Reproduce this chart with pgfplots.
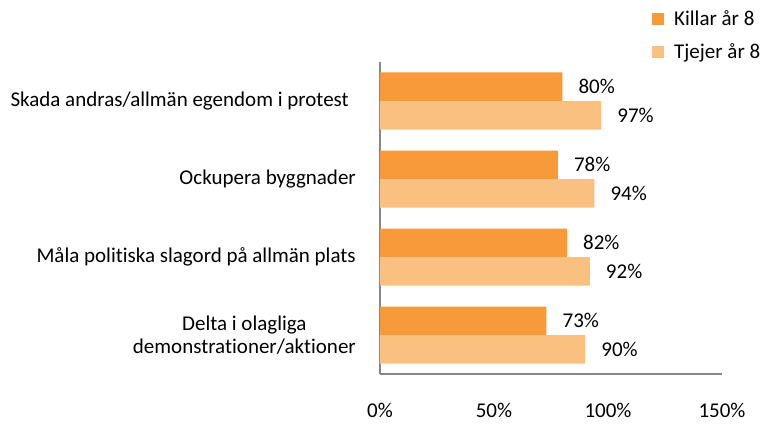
\documentclass[border=0pt]{standalone}
\usepackage{fontspec}
\setmainfont{Carlito}[Ligatures={NoCommon}]
\usepackage{pgfplots}
\pgfplotsset{compat=1.18}
\definecolor{killar}{HTML}{F99A3A}
\definecolor{tjejer}{HTML}{FAC07F}
\definecolor{axgray}{HTML}{868686}
\newcommand{\cf}{\fontsize{21}{23}\selectfont}
\begin{document}
\cf
\begin{tikzpicture}[font=\cf]
\begin{axis}[
 at={(0pt,0pt)}, anchor=south west,
 scale only axis, width=342pt, height=312pt,
 xmin=0, xmax=150, ymin=-0.5, ymax=3.5,
 axis x line=bottom, axis y line=left,
 axis line style={-, draw=axgray, line width=1.2pt},
 xtick={0,50,100,150}, xticklabels={0\%,50\%,100\%,150\%},
 ytick={0,1,2,3},
 yticklabels={{Delta i olagliga\\demonstrationer/aktioner},{Måla politiska slagord på allmän plats},{Ockupera byggnader},{Skada andras/allmän egendom i protest\hspace*{7pt}}},
 major tick length=0pt,
 xticklabel style={anchor=center, yshift=-36pt, font=\cf},
 yticklabel style={anchor=east, align=center, inner sep=0pt, xshift=-24pt, font=\cf},
 xbar, bar width=28.5pt,
 nodes near coords={\pgfmathprintnumber{\pgfplotspointmeta}\%},
 /pgf/number format/assume math mode=true,
 every node near coord/.append style={anchor=west, inner sep=0pt, xshift=16pt, font=\cf, text=black},
 legend style={at={(rel axis cs:0.7953,1.1667)}, anchor=north west, draw=none, fill=none, inner sep=0pt, row sep=15pt, column sep=10pt, font=\cf, nodes={inner sep=0pt}},
 legend cell align=left,
 legend image code/.code={\fill[#1] (0pt,-6pt) rectangle (12pt,6pt);},
 clip=false,
]
\addplot[fill=killar, draw=none, bar shift=14.25pt] coordinates {(73,0) (82,1) (78,2) (80,3)};
\addplot[fill=tjejer, draw=none, bar shift=-14.25pt] coordinates {(90,0) (92,1) (94,2) (97,3)};
\legend{Killar år 8, Tjejer år 8}
\end{axis}
\pgfresetboundingbox
\path[use as bounding box] (-380pt,-52pt) rectangle (383pt,374pt);
\end{tikzpicture}
\end{document}
